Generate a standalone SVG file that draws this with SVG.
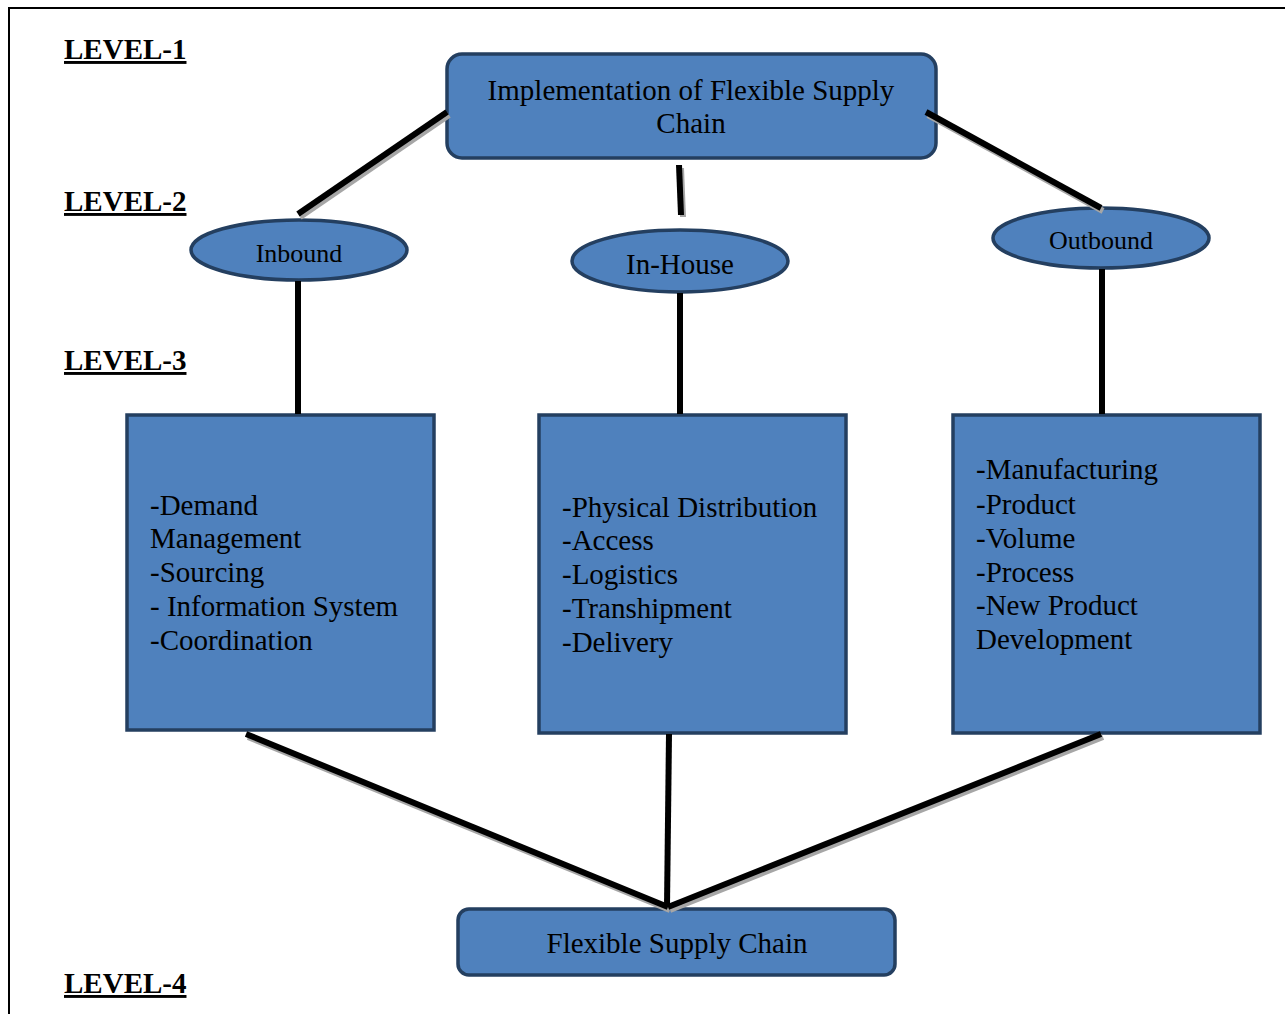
<svg xmlns="http://www.w3.org/2000/svg" width="1285" height="1014" viewBox="0 0 1285 1014">
<style>
.node{fill:#4F81BD;stroke:#243F60;stroke-width:3.5}
.t{font-family:"Liberation Serif","Times New Roman",serif;fill:#000}
.lvl{font-family:"Liberation Serif","Times New Roman",serif;font-weight:bold;font-size:29px;text-decoration:underline}
.c{stroke:#000;stroke-width:6;fill:none}
.s{stroke:#A6A6A6;stroke-width:6;fill:none}
</style>
<rect width="1285" height="1014" fill="#fff"/>
<path d="M9,1014 V8 H1285" fill="none" stroke="#000" stroke-width="2"/>
<g id="levels">
<text class="lvl" x="64" y="59">LEVEL-1</text>
<text class="lvl" x="64" y="211">LEVEL-2</text>
<text class="lvl" x="64" y="370">LEVEL-3</text>
<text class="lvl" x="64" y="993">LEVEL-4</text>
</g>
<g id="top">
<rect class="node" x="447" y="54" width="489" height="104" rx="15"/>
<text class="t" font-size="29" text-anchor="middle" x="691" y="100">Implementation of Flexible Supply</text>
<text class="t" font-size="29" text-anchor="middle" x="691" y="133">Chain</text>
</g>
<g id="inbound">
<ellipse class="node" cx="299" cy="250" rx="108" ry="30"/>
<text class="t" font-size="26" text-anchor="middle" x="299" y="262">Inbound</text>
</g>
<g id="inhouse">
<ellipse class="node" cx="680" cy="261" rx="108" ry="31"/>
<text class="t" font-size="29" text-anchor="middle" x="680" y="274">In-House</text>
</g>
<g id="outbound">
<ellipse class="node" cx="1101" cy="238" rx="108" ry="30"/>
<text class="t" font-size="26" text-anchor="middle" x="1101" y="249">Outbound</text>
</g>
<g id="box-inbound">
<rect class="node" x="127" y="415" width="307" height="315" stroke-width="4"/>
<text class="t" font-size="29">
<tspan x="150" y="515">-Demand</tspan>
<tspan x="150" y="548">Management</tspan>
<tspan x="150" y="582">-Sourcing</tspan>
<tspan x="150" y="616">- Information System</tspan>
<tspan x="150" y="650">-Coordination</tspan>
</text>
</g>
<g id="box-inhouse">
<rect class="node" x="539" y="415" width="307" height="318" stroke-width="4"/>
<text class="t" font-size="29">
<tspan x="562" y="517">-Physical Distribution</tspan>
<tspan x="562" y="550">-Access</tspan>
<tspan x="562" y="584">-Logistics</tspan>
<tspan x="562" y="618">-Transhipment</tspan>
<tspan x="562" y="652">-Delivery</tspan>
</text>
</g>
<g id="box-outbound">
<rect class="node" x="953" y="415" width="307" height="318" stroke-width="4"/>
<text class="t" font-size="29">
<tspan x="976" y="479">-Manufacturing</tspan>
<tspan x="976" y="514">-Product</tspan>
<tspan x="976" y="548">-Volume</tspan>
<tspan x="976" y="582">-Process</tspan>
<tspan x="976" y="615">-New Product</tspan>
<tspan x="976" y="649">Development</tspan>
</text>
</g>
<g id="bottom">
<rect class="node" x="458" y="909" width="437" height="66" rx="11"/>
<text class="t" font-size="29" text-anchor="middle" x="677" y="953">Flexible Supply Chain</text>
</g>
<g id="connectors">
<g transform="translate(2,3)">
<line class="s" x1="447" y1="112" x2="298" y2="214"/>
<line class="s" x1="679" y1="165" x2="681" y2="214"/>
<line class="s" x1="926" y1="112" x2="1101" y2="208"/>
<line class="s" x1="246" y1="734" x2="668" y2="907"/>
<line class="s" x1="1101" y1="734" x2="668" y2="907"/>
</g>
<line class="c" x1="447" y1="112" x2="298" y2="214"/>
<line class="c" x1="679" y1="165" x2="681" y2="215"/>
<line class="c" x1="926" y1="112" x2="1101" y2="208"/>
<line class="c" x1="298" y1="281" x2="298" y2="414"/>
<line class="c" x1="680" y1="293" x2="680" y2="414"/>
<line class="c" x1="1102" y1="269" x2="1102" y2="414"/>
<line class="c" x1="246" y1="734" x2="668" y2="907"/>
<line class="c" x1="669" y1="734" x2="667" y2="907" stroke-width="5"/>
<line class="c" x1="1101" y1="734" x2="668" y2="907"/>
</g>
</svg>
